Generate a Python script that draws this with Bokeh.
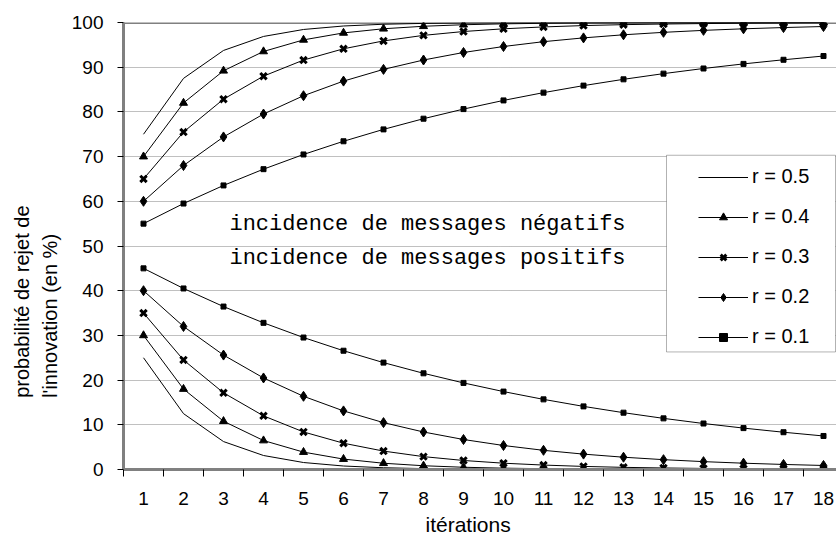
from math import pi
from bokeh.plotting import figure
from bokeh.models import (FixedTicker, Legend, LegendItem, Label, Span,
                          BoxAnnotation, Range1d, Title)
from bokeh.embed import file_html
from bokeh.resources import INLINE

iterations = [1, 2, 3, 4, 5, 6, 7, 8, 9, 10, 11, 12, 13, 14, 15, 16, 17, 18]

# negative messages (rejection rising)
neg_r05 = [75, 87.5, 93.75, 96.88, 98.44, 99.22, 99.61, 99.8, 99.9, 99.95, 99.98, 99.99, 99.99, 100, 100, 100, 100, 100]
neg_r04 = [70, 82, 89.2, 93.52, 96.11, 97.67, 98.6, 99.16, 99.5, 99.7, 99.82, 99.89, 99.93, 99.96, 99.98, 99.99, 99.99, 100]
neg_r03 = [65, 75.5, 82.85, 88.0, 91.6, 94.12, 95.88, 97.12, 97.98, 98.59, 99.01, 99.31, 99.52, 99.66, 99.76, 99.83, 99.88, 99.92]
neg_r02 = [60, 68, 74.4, 79.52, 83.62, 86.89, 89.51, 91.61, 93.29, 94.63, 95.71, 96.56, 97.25, 97.8, 98.24, 98.59, 98.87, 99.1]
neg_r01 = [55, 59.5, 63.55, 67.19, 70.48, 73.43, 76.09, 78.48, 80.63, 82.57, 84.31, 85.88, 87.29, 88.56, 89.71, 90.74, 91.66, 92.5]

# positive messages (rejection falling)
pos_r05 = [25, 12.5, 6.25, 3.13, 1.56, 0.78, 0.39, 0.2, 0.1, 0.05, 0.02, 0.01, 0.01, 0, 0, 0, 0, 0]
pos_r04 = [30, 18, 10.8, 6.48, 3.89, 2.33, 1.4, 0.84, 0.5, 0.3, 0.18, 0.11, 0.07, 0.04, 0.02, 0.01, 0.01, 0]
pos_r03 = [35, 24.5, 17.15, 12.0, 8.4, 5.88, 4.12, 2.88, 2.02, 1.41, 0.99, 0.69, 0.48, 0.34, 0.24, 0.17, 0.12, 0.08]
pos_r02 = [40, 32, 25.6, 20.48, 16.38, 13.11, 10.49, 8.39, 6.71, 5.37, 4.29, 3.44, 2.75, 2.2, 1.76, 1.41, 1.13, 0.9]
pos_r01 = [45, 40.5, 36.45, 32.81, 29.52, 26.57, 23.91, 21.52, 19.37, 17.43, 15.69, 14.12, 12.71, 11.44, 10.29, 9.26, 8.34, 7.5]

labels = ["r = 0.5", "r = 0.4", "r = 0.3", "r = 0.2", "r = 0.1"]
y_ticks = [0, 10, 20, 30, 40, 50, 60, 70, 80, 90, 100]

FONT = "Liberation Sans"

p = figure(width=836, height=542, x_range=Range1d(0.5, 18.325), y_range=Range1d(0, 100),
           output_backend="svg", toolbar_location=None,
           min_border_left=123, min_border_right=0, min_border_top=22, min_border_bottom=72)
p.outline_line_color = None
p.background_fill_color = "white"

# axes
for ax in (p.xaxis[0], p.yaxis[0]):
    ax.axis_line_color = "#808080"
    ax.axis_line_width = 3
    ax.major_label_text_font = FONT
    ax.major_label_text_color = "black"
    ax.major_label_text_font_size = "19px"
    ax.major_label_text_font_style = "normal"

p.xaxis.ticker = FixedTicker(ticks=iterations, minor_ticks=[i - 0.5 for i in iterations] + [18.5])
p.xaxis.major_tick_out = 0
p.xaxis.major_tick_in = 0
p.xaxis.minor_tick_out = 7
p.xaxis.minor_tick_in = 0
p.xaxis.minor_tick_line_color = "black"
p.xaxis.major_label_standoff = 15

p.yaxis.ticker = FixedTicker(ticks=y_ticks)
p.yaxis.major_tick_out = 6
p.yaxis.major_tick_in = 0
p.yaxis.major_tick_line_color = "black"
p.yaxis.minor_tick_line_color = None
p.yaxis.major_label_standoff = 14

p.xgrid.grid_line_color = None
p.ygrid.ticker = FixedTicker(ticks=y_ticks[1:-1])
p.ygrid.grid_line_color = "#808080"
p.ygrid.grid_line_dash = "1 1"
p.ygrid.grid_line_width = 1

top_line = Span(location=100, dimension="width", line_color="#808080", line_width=3, level="underlay")
p.add_layout(top_line)

# axis titles
x_title = Title(text="itérations", align="left", offset=302, vertical_align="top", standoff=10,
                text_font=FONT, text_font_size="21px", text_font_style="normal", text_color="black")
p.add_layout(x_title, "below")
y_title = Title(text="probabilité de rejet de\nl'innovation (en %)", align="right", offset=183,
                vertical_align="bottom", standoff=16, text_line_height=1.25,
                text_font=FONT, text_font_size="20px", text_font_style="normal", text_color="black")
p.add_layout(y_title, "left")

# series
def draw(neg, pos, marker, size, lw=1):
    rs = []
    rs.append(p.line(iterations, neg, line_color="black", line_width=1))
    p.line(iterations, pos, line_color="black", line_width=1)
    if marker is not None:
        kw = dict(marker=marker, size=size, line_color="black", fill_color="black", line_width=lw)
        rs.append(p.scatter(iterations, neg, **kw))
        p.scatter(iterations, pos, **kw)
    return rs

r05 = draw(neg_r05, pos_r05, None, 0)
r04 = draw(neg_r04, pos_r04, "triangle", 8)
r03 = draw(neg_r03, pos_r03, "x", 9, lw=3)
r02 = draw(neg_r02, pos_r02, "diamond", 10)
r01 = draw(neg_r01, pos_r01, "square", 5)

# legend frame
box = BoxAnnotation(left=14.075, right=18.3, bottom=26.3, top=70.3,
                    fill_color="white", fill_alpha=1, line_color="black", line_width=1)
p.add_layout(box)

legend = Legend(items=[LegendItem(label=l, renderers=r) for l, r in
                       zip(labels, [r05, r04, r03, r02, r01])],
                location=(575, 121), margin=0, padding=0, spacing=17,
                glyph_width=50, glyph_height=20, label_height=20, label_standoff=4,
                border_line_alpha=0, background_fill_alpha=0,
                label_text_font=FONT, label_text_font_size="20px", label_text_color="black")
p.add_layout(legend)

# annotations
for txt, yy in (("incidence de messages négatifs", 54.7), ("incidence de messages positifs", 47.1)):
    p.add_layout(Label(x=8.1, y=yy, text=txt, text_font="Liberation Mono", text_font_size="22px",
                       text_align="center", text_baseline="alphabetic", text_color="black"))

open("out.html", "w").write(file_html(p, INLINE))
